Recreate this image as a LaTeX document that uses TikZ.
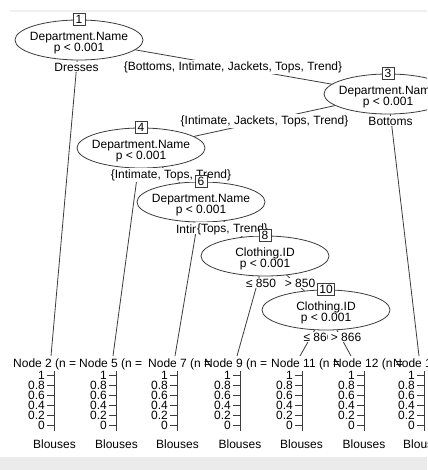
\documentclass[tikz,border=0pt]{standalone}
\usepackage{fontspec}
\setmainfont{Liberation Sans}
\usetikzlibrary{shapes.geometric}

\definecolor{bandgray}{HTML}{EBEBEB}
\definecolor{rulegray}{HTML}{F0F0F0}
\definecolor{inkgray}{HTML}{3C3C3C}

\tikzset{
  splitnode/.style={ellipse,draw=inkgray,fill=white,line width=0.8bp,minimum width=128bp,minimum height=40bp,inner xsep=-4bp,inner ysep=0pt,text height=24bp,text depth=1.4bp,align=center,font=\fontsize{12bp}{14bp}\selectfont},
  idbox/.style={rectangle,draw=inkgray,fill=white,line width=0.8bp,minimum width=12bp,minimum height=11.5bp,inner sep=1.5bp,font=\fontsize{12bp}{12bp}\selectfont},
  elab/.style={fill=white,inner sep=1bp,font=\fontsize{12bp}{14bp}\selectfont},
  branch/.style={draw=inkgray,line width=0.8bp},
  hdr/.style={anchor=west,inner sep=0pt,font=\fontsize{12bp}{14bp}\selectfont},
  ticklab/.style={anchor=east,align=right,inner sep=0pt,font=\fontsize{12bp}{10bp}\selectfont},
  yaxis/.style={draw=inkgray,line width=0.8bp},
  classlab/.style={inner sep=0pt,font=\fontsize{12bp}{14bp}\selectfont}
}

\begin{document}
\begin{tikzpicture}[x=1bp,y=-1bp]
\useasboundingbox (0,0) rectangle (427,470);
\clip (0,0) rectangle (427,470);
\fill[white] (0,0) rectangle (427,470);
\draw[rulegray,line width=1.5bp] (10,11) -- (427,11);
\fill[bandgray] (0,457) rectangle (427,470);

\node[splitnode] (n1) at (79,40) {Department.Name\\[-3bp]p < 0.001};
\node[splitnode] (n3) at (388,94) {Department.Name\\[-3bp]p < 0.001};
\node[splitnode] (n4) at (141,148) {Department.Name\\[-3bp]p < 0.001};
\node[splitnode] (n6) at (201,202) {Department.Name\\[-3bp]p < 0.001};
\node[splitnode] (n8) at (265,256) {Clothing.ID\\[-3bp]p < 0.001};
\node[splitnode] (n10) at (326,310) {Clothing.ID\\[-3bp]p < 0.001};

\coordinate (t2) at (51,356);
\coordinate (t5) at (113,356);
\coordinate (t7) at (175,356);
\coordinate (t9) at (237,356);
\coordinate (t11) at (300,356);
\coordinate (t12) at (351,356);
\coordinate (t13) at (419,356);

\draw[branch] (n1) -- (t2);
\draw[branch] (n1) -- (n3);
\draw[branch] (n3) -- (n4);
\draw[branch] (n3) -- (t13);
\draw[branch] (n4) -- (t5);
\draw[branch] (n4) -- (n6);
\draw[branch] (n6) -- (t7);
\draw[branch] (n6) -- (n8);
\draw[branch] (n8) -- (t9);
\draw[branch] (n8) -- (n10);
\draw[branch] (n10) -- (t11);
\draw[branch] (n10) -- (t12);

\node[idbox] at (n1.north) {1};
\node[elab] at (76.5,67) {Dresses};
\node[elab] at (233,67) {\{Bottoms, Intimate, Jackets, Tops, Trend\}};
\node[idbox] at (n3.north) {3};
\node[elab] at (264.5,121) {\{Intimate, Jackets, Tops, Trend\}};
\node[idbox] at (n4.north) {4};
\node[elab] at (171,175) {\{Intimate, Tops, Trend\}};
\node[idbox] at (n6.north) {6};
\node[elab] at (197.5,229) {Intimate};
\node[elab] at (232.5,229) {\{Tops, Trend\}};
\node[idbox] at (n8.north) {8};
\node[elab] at (261,283) {≤ 850};
\node[elab] at (300,283) {> 850};
\node[idbox] at (n10.north) {10};
\node[elab] at (318.5,337) {≤ 866};
\node[elab,inner xsep=3bp] at (346,337) {> 866};
\node[elab] at (390.5,121) {Bottoms};

\node[hdr] at (13,364) {Node 2 (n =};
\node[hdr] at (79,364) {Node 5 (n =};
\node[hdr] at (148,364) {Node 7 (n =};
\node[hdr] at (204,364) {Node 9 (n =};
\node[hdr] at (271,364) {Node 11 (n =};
\node[hdr] at (333,364) {Node 12 (n =};
\node[hdr] at (393,364) {Node 13 (n =};

\draw[yaxis] (54,371) -- (54,431) (47,375) -- (54,375) (47,385) -- (54,385) (47,395) -- (54,395) (47,405) -- (54,405) (47,415) -- (54,415) (47,425) -- (54,425);
\draw[yaxis] (116,371) -- (116,431) (109,375) -- (116,375) (109,385) -- (116,385) (109,395) -- (116,395) (109,405) -- (116,405) (109,415) -- (116,415) (109,425) -- (116,425);
\draw[yaxis] (177,371) -- (177,431) (170,375) -- (177,375) (170,385) -- (177,385) (170,395) -- (177,395) (170,405) -- (177,405) (170,415) -- (177,415) (170,425) -- (177,425);
\draw[yaxis] (240,371) -- (240,431) (233,375) -- (240,375) (233,385) -- (240,385) (233,395) -- (240,395) (233,405) -- (240,405) (233,415) -- (240,415) (233,425) -- (240,425);
\draw[yaxis] (302,371) -- (302,431) (295,375) -- (302,375) (295,385) -- (302,385) (295,395) -- (302,395) (295,405) -- (302,405) (295,415) -- (302,415) (295,425) -- (302,425);
\draw[yaxis] (364,371) -- (364,431) (357,375) -- (364,375) (357,385) -- (364,385) (357,395) -- (364,395) (357,405) -- (364,405) (357,415) -- (364,415) (357,425) -- (364,425);
\draw[yaxis] (424,371) -- (424,431) (417,375) -- (424,375) (417,385) -- (424,385) (417,395) -- (424,395) (417,405) -- (424,405) (417,415) -- (424,415) (417,425) -- (424,425);

\node[ticklab] at (45,400) {1\\0.8\\0.6\\0.4\\0.2\\0};
\node[ticklab] at (107,400) {1\\0.8\\0.6\\0.4\\0.2\\0};
\node[ticklab] at (168,400) {1\\0.8\\0.6\\0.4\\0.2\\0};
\node[ticklab] at (231,400) {1\\0.8\\0.6\\0.4\\0.2\\0};
\node[ticklab] at (293,400) {1\\0.8\\0.6\\0.4\\0.2\\0};
\node[ticklab] at (355,400) {1\\0.8\\0.6\\0.4\\0.2\\0};
\node[ticklab] at (415,400) {1\\0.8\\0.6\\0.4\\0.2\\0};

\node[classlab] at (54.5,444) {Blouses};
\node[classlab] at (116.5,444) {Blouses};
\node[classlab] at (177.5,444) {Blouses};
\node[classlab] at (240,444) {Blouses};
\node[classlab] at (301.5,444) {Blouses};
\node[classlab] at (364,444) {Blouses};
\node[classlab] at (424.5,444) {Blouses};
\end{tikzpicture}
\end{document}
